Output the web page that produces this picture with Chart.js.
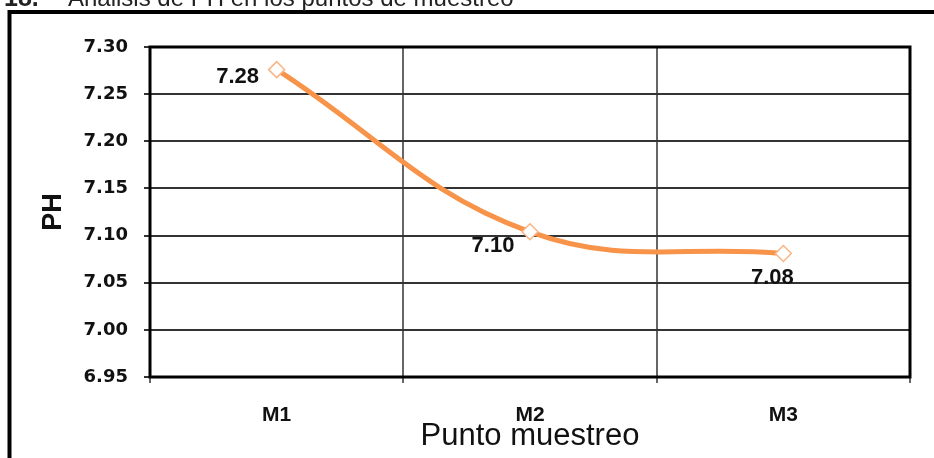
<!DOCTYPE html>
<html>
<head>
<meta charset="utf-8">
<script src="https://cdn.jsdelivr.net/npm/chart.js@4.4.1/dist/chart.umd.min.js"></script>
<style>
  html, body { margin: 0; padding: 0; background: #ffffff; }
  #wrap { width: 934px; height: 458px; }
</style>
</head>
<body>
<div id="wrap"><canvas id="c" width="934" height="458"></canvas></div>
<script>
// pH measured at each sampling point
const categories = ['M1', 'M2', 'M3'];
const phValues = [7.276, 7.104, 7.081];
const yTicks = [6.95, 7.00, 7.05, 7.10, 7.15, 7.20, 7.25, 7.30];
const titleNumber = '18.';
const titleText = 'Análisis de PH en los puntos de muestreo';
const xTitle = 'Punto muestreo';
const yTitle = 'PH';

// where each value label sits relative to its point (px)
const labelOffsets = [[-39, 7], [-37, 14], [-11, 24]];

const framePlugin = {
  id: 'frame',
  beforeDraw(chart) {
    const ctx = chart.ctx;
    ctx.save();
    ctx.fillStyle = '#ffffff';
    ctx.fillRect(0, 0, chart.width, chart.height);
    // outer box
    ctx.strokeStyle = '#000000';
    ctx.lineWidth = 4;
    ctx.beginPath();
    ctx.moveTo(9.5, chart.height + 5);
    ctx.lineTo(9.5, 12);
    ctx.lineTo(chart.width + 5, 12);
    ctx.stroke();
    // heading
    ctx.fillStyle = '#222222';
    ctx.textBaseline = 'alphabetic';
    ctx.textAlign = 'left';
    ctx.font = 'bold 25px "Liberation Sans", Arial, sans-serif';
    ctx.fillText(titleNumber, 4, 6);
    ctx.font = '24px "Liberation Sans", Arial, sans-serif';
    ctx.fillText(titleText, 68, 6);
    ctx.restore();
  },
  beforeDatasetsDraw(chart) {
    const a = chart.chartArea;
    const ctx = chart.ctx;
    ctx.save();
    ctx.strokeStyle = '#000000';
    ctx.lineWidth = 3;
    ctx.strokeRect(a.left, a.top, a.right - a.left, a.bottom - a.top);
    ctx.restore();
  },
  afterDatasetsDraw(chart) {
    const ctx = chart.ctx;
    const meta = chart.getDatasetMeta(0);
    ctx.save();
    ctx.fillStyle = '#111111';
    ctx.font = 'bold 22px "Liberation Sans", Arial, sans-serif';
    ctx.textAlign = 'center';
    ctx.textBaseline = 'middle';
    meta.data.forEach((pt, i) => {
      const [dx, dy] = labelOffsets[i];
      ctx.fillText(phValues[i].toFixed(2), pt.x + dx, pt.y + dy);
    });
    ctx.restore();
  }
};

new Chart(document.getElementById('c'), {
  type: 'line',
  data: {
    labels: categories,
    datasets: [{
      data: phValues,
      borderColor: '#F7944A',
      borderWidth: 5,
      tension: 0.4,
      fill: false,
      pointStyle: 'rectRot',
      pointRadius: 8,
      pointBackgroundColor: '#ffffff',
      pointBorderColor: '#FAB586',
      pointBorderWidth: 1.5
    }]
  },
  options: {
    responsive: false,
    animation: false,
    devicePixelRatio: 1,
    layout: { padding: { top: 47, right: 24, left: 0, bottom: 0 } },
    plugins: {
      legend: { display: false },
      tooltip: { enabled: false },
      title: { display: false }
    },
    scales: {
      x: {
        type: 'category',
        offset: true,
        afterFit: s => { s.height = 81; },
        grid: {
          offset: true,
          color: '#666666',
          lineWidth: 2,
          tickLength: 6,
          drawOnChartArea: true
        },
        border: { display: false },
        ticks: {
          color: '#111111',
          padding: 20,
          font: { family: '"Liberation Sans Narrow", "Liberation Sans", Arial, sans-serif', size: 21, weight: 'bold' }
        },
        title: {
          display: true,
          text: xTitle,
          color: '#111111',
          padding: { top: 0, bottom: 3 },
          font: { family: '"Liberation Sans", Arial, sans-serif', size: 31, weight: 'normal' }
        }
      },
      y: {
        min: 6.95,
        max: 7.30,
        afterFit: s => { s.width = 150; },
        afterBuildTicks: s => { s.ticks = yTicks.map(v => ({ value: v })); },
        grid: {
          color: '#333333',
          lineWidth: 2,
          tickLength: 6
        },
        border: { display: false },
        ticks: {
          color: '#111111',
          padding: 16,
          font: { family: '"DejaVu Sans", Verdana, sans-serif', size: 18, weight: 'bold' },
          callback: v => Number(v).toFixed(2)
        },
        title: {
          display: true,
          text: yTitle,
          color: '#111111',
          padding: { top: 37, bottom: 0 },
          font: { family: '"Liberation Sans", Arial, sans-serif', size: 27, weight: 'bold' }
        }
      }
    }
  },
  plugins: [framePlugin]
});
</script>
</body>
</html>
